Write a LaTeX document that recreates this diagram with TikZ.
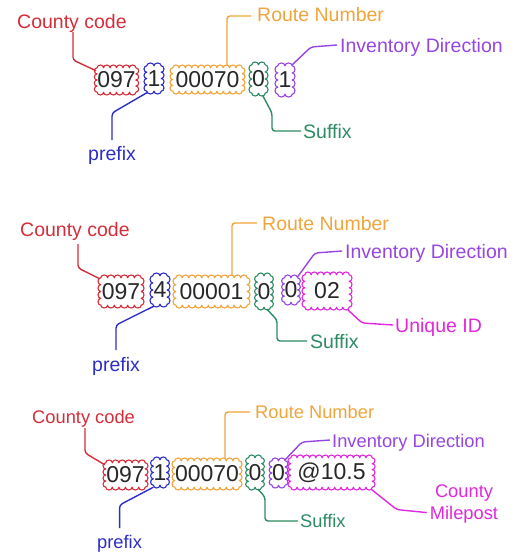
\documentclass[tikz,border=0pt]{standalone}
\usepackage{fontspec}
\setmainfont{Liberation Sans}
\usetikzlibrary{calc}

\definecolor{cred}{RGB}{214,45,58}
\definecolor{corange}{RGB}{240,165,60}
\definecolor{cblue}{RGB}{45,45,200}
\definecolor{cgreen}{RGB}{45,140,100}
\definecolor{cpurple}{RGB}{150,70,225}
\definecolor{cmagenta}{RGB}{225,40,220}
\definecolor{cdigit}{RGB}{40,40,40}

% Scalloped outline round a named node: #1 node name, #2 colour.
\newcommand\cloudbox[2]{%
  \path (#1.south west); \pgfgetlastxy{\cbxa}{\cbya}%
  \path (#1.north east); \pgfgetlastxy{\cbxb}{\cbyb}%
  \pgfmathsetmacro\cbw{\cbxb-\cbxa}%
  \pgfmathsetmacro\cbh{\cbyb-\cbya}%
  \pgfmathtruncatemacro\cbnx{max(1,round(\cbw/6.5))}%
  \pgfmathtruncatemacro\cbny{max(1,round(\cbh/6.5))}%
  \pgfmathsetmacro\cbrx{\cbw/\cbnx/2}%
  \pgfmathsetmacro\cbry{\cbh/\cbny/2}%
  \draw[draw=#2, line width=1.1pt, line join=round] (\cbxa,\cbyb)
    \foreach \i in {1,...,\cbnx}{ arc[start angle=180,end angle=0,x radius=\cbrx pt,y radius=2.8pt] }
    \foreach \i in {1,...,\cbny}{ arc[start angle=90,end angle=-90,x radius=2.8pt,y radius=\cbry pt] }
    \foreach \i in {1,...,\cbnx}{ arc[start angle=0,end angle=-180,x radius=\cbrx pt,y radius=2.8pt] }
    \foreach \i in {1,...,\cbny}{ arc[start angle=270,end angle=90,x radius=2.8pt,y radius=\cbry pt] }
    -- cycle;%
}

\begin{document}
\begin{tikzpicture}[x=1pt,y=-1pt,
  field/.style={inner sep=0pt, text=cdigit, font=\fontsize{23}{23}\selectfont},
  fsz/.style 2 args={minimum width=#1pt, minimum height=#2pt},
  lbl/.style={text=#1, inner sep=0pt, anchor=base west, font=\fontsize{19.5}{22}\selectfont},
  lbls/.style={text=#1, inner sep=0pt, anchor=base west, font=\fontsize{18.3}{22}\selectfont},
  lead/.style={draw=#1, line width=1.4pt, rounded corners=3pt},
]
\fill[white] (0,0) rectangle (525,554);
\useasboundingbox (0,0) rectangle (525,554);

% ---------- first code: 097 1 00070 0 1 ----------
\node[field, fsz={37}{24}] (r1) at (116.5,80)   {097};
\node[field, fsz={14}{25}] (b1) at (154,78.5)   {1};
\node[field, fsz={69}{23}] (o1) at (207.5,79.5) {00070};
\node[field, fsz={13}{28}] (g1) at (258.5,79)   {0};
\node[field, fsz={14}{28}] (p1) at (285,80)     {1};
\cloudbox{r1}{cred}\cloudbox{b1}{cblue}\cloudbox{o1}{corange}
\cloudbox{g1}{cgreen}\cloudbox{p1}{cpurple}

\node[lbl=cred]    (cc1) at (17,28)   {County code};
\node[lbl=corange] (rn1) at (257,21)  {Route Number};
\node[lbl=cpurple] (id1) at (340,52)  {Inventory Direction};
\node[lbl=cgreen]  (sx1) at (303,138) {Suffix};
\node[lbl=cblue]   (pf1) at (88,160)  {prefix};

\draw[lead=cred] ($(cc1.base west)+(56,4)$) -- ++(0,28) -- ($(r1.north west)+(-1,3)$);
\draw[lead=cblue] ($(b1.south west)+(1,1)$) -- ($(pf1.base)+(0,-47)$) -- ($(pf1.base)+(0,-20)$);
\draw[lead=corange] ($(o1.north)+(19.5,-2)$) |- ($(rn1.base west)+(-6,-5)$);
\draw[lead=cgreen] ($(g1.south)+(4,2)$) -- ($(sx1.base west)+(-31,-25)$) |- ($(sx1.base west)+(-2,-7)$);
\draw[lead=cpurple] ($(p1.north east)+(0,-1)$) -- ($(id1.base west)+(-29,-5)$) -- ($(id1.base west)+(-3,-7)$);

% ---------- second code: 097 4 00001 0 0 02 ----------
\node[field, fsz={40}{27}] (r2) at (121,291.5)   {097};
\node[field, fsz={14}{28}] (b2) at (160,290)     {4};
\node[field, fsz={71}{27}] (o2) at (211.5,291.5) {00001};
\node[field, fsz={12}{31}] (g2) at (264,291.5)   {0};
\node[field, fsz={12}{24}] (p2) at (291,290)     {0};
\node[field, fsz={44}{32}] (m2) at (327,291)     {02};
\cloudbox{r2}{cred}\cloudbox{b2}{cblue}\cloudbox{o2}{corange}
\cloudbox{g2}{cgreen}\cloudbox{p2}{cpurple}\cloudbox{m2}{cmagenta}

\node[lbl=cred]     (cc2)  at (20,236)  {County code};
\node[lbl=corange]  (rn2)  at (262,230) {Route Number};
\node[lbl=cpurple]  (id2)  at (345,258) {Inventory Direction};
\node[lbl=cgreen]   (sx2)  at (310,348) {Suffix};
\node[lbl=cblue]    (pf2)  at (92,371)  {prefix};
\node[lbl=cmagenta] (uid2) at (395,332) {Unique ID};

\draw[lead=cred] ($(cc2.base west)+(58,8)$) -- ++(0,24) -- ($(r2.north west)+(-1,1)$);
\draw[lead=cblue] ($(b2.south west)+(1,2)$) -- ($(pf2.base)+(0,-46)$) -- ($(pf2.base)+(0,-21)$);
\draw[lead=corange] ($(o2.north)+(20.5,-2)$) |- ($(rn2.base west)+(-5,-7)$);
\draw[lead=cgreen] ($(g2.south)+(3,2)$) -- ($(sx2.base west)+(-33,-28)$) |- ($(sx2.base west)+(-3,-7)$);
\draw[lead=cpurple] ($(p2.north east)+(0,-1)$) -- ($(id2.base west)+(-30,-5)$) -- ($(id2.base west)+(-3,-7)$);
\draw[lead=cmagenta] ($(m2.south east)+(-2,2)$) -- ($(uid2.base west)+(-33,-9)$) -- ($(uid2.base west)+(-2,-7)$);

% ---------- third code: 097 1 00070 0 0 @10.5 ----------
\node[field, fsz={39}{24}] (r3) at (125.5,475)   {097};
\node[field, fsz={10}{25}] (b3) at (160,472.5)   {1};
\node[field, fsz={64}{26}] (o3) at (207,474)     {00070};
\node[field, fsz={8}{29}]  (g3) at (255,472.5)   {0};
\node[field, fsz={11}{24}] (p3) at (278.5,473)   {0};
\node[field, fsz={81}{29}] (m3) at (331.5,472.5) {@10.5};
\cloudbox{r3}{cred}\cloudbox{b3}{cblue}\cloudbox{o3}{corange}
\cloudbox{g3}{cgreen}\cloudbox{p3}{cpurple}\cloudbox{m3}{cmagenta}

\node[lbls=cred]    (cc3) at (32,423)  {County code};
\node[lbls=corange] (rn3) at (255,418) {Route Number};
\node[lbls=cpurple] (id3) at (332,447) {Inventory Direction};
\node[lbls=cgreen]  (sx3) at (300,527) {Suffix};
\node[lbls=cblue]   (pf3) at (97,548)  {prefix};
\node[text=cmagenta, inner sep=0pt, anchor=north, align=center,
      font=\fontsize{18.3}{22}\selectfont] (mp3) at (464,484.6) {County\\Milepost};

\draw[lead=cred] ($(cc3.base west)+(53,5)$) -- ++(0,25) -- ($(r3.north west)+(-1,2)$);
\draw[lead=cblue] ($(b3.south west)+(0,2)$) -- ($(pf3.base)+(0,-43)$) -- ($(pf3.base)+(0,-20)$);
\draw[lead=corange] ($(o3.north)+(18,-2)$) |- ($(rn3.base west)+(-5,-6)$);
\draw[lead=cgreen] ($(g3.south)+(3,2)$) -- ($(sx3.base west)+(-35,-30)$) |- ($(sx3.base west)+(-2,-6)$);
\draw[lead=cpurple] ($(p3.north east)+(0,-1)$) -- ($(id3.base west)+(-30,-5)$) -- ($(id3.base west)+(-2,-7)$);
\draw[lead=cmagenta] ($(m3.south east)+(-1,2)$) -- ($(mp3.south west)+(-33,-14)$) -- ($(mp3.south west)+(-3,-11)$);
\end{tikzpicture}
\end{document}
